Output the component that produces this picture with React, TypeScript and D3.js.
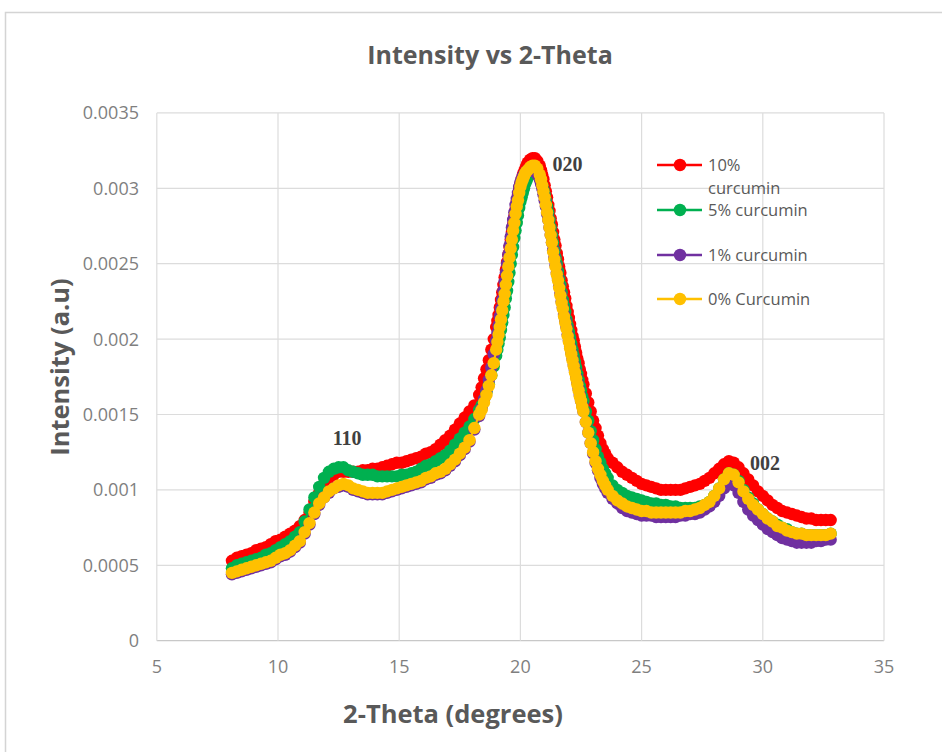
import React from "react";
import * as d3 from "d3";

// 2-Theta scan positions (degrees)
const twoTheta = [
  8.1, 8.3, 8.5, 8.7, 8.9, 9.1, 9.3, 9.5, 9.7, 9.9,
  10.1, 10.3, 10.5, 10.7, 10.9, 11.1, 11.3, 11.5, 11.7, 11.9,
  12.1, 12.3, 12.5, 12.7, 12.9, 13.1, 13.3, 13.5, 13.7, 13.9,
  14.1, 14.3, 14.5, 14.7, 14.9, 15.1, 15.3, 15.5, 15.7, 15.9,
  16.1, 16.3, 16.5, 16.7, 16.9, 17.1, 17.3, 17.5, 17.7, 17.9,
  18.1, 18.3,
  18.4, 18.5, 18.6, 18.7, 18.8, 18.9,
  19.0, 19.05, 19.1, 19.15, 19.2, 19.25, 19.3, 19.35, 19.4, 19.45, 19.5, 19.55, 19.6,
  19.65, 19.7, 19.75, 19.8, 19.85, 19.9, 19.95, 20.0, 20.05, 20.1, 20.15, 20.2, 20.25,
  20.3, 20.4, 20.5, 20.6, 20.7,
  20.8, 20.85, 20.9, 20.95, 21.0, 21.05, 21.1, 21.15, 21.2, 21.25, 21.3, 21.35,
  21.4, 21.45, 21.5, 21.55, 21.6, 21.65, 21.7, 21.75, 21.8, 21.85, 21.9, 21.95,
  22.0, 22.05, 22.1, 22.15, 22.2, 22.25, 22.3, 22.35, 22.4, 22.45, 22.5, 22.55,
  22.6, 22.7, 22.8, 22.9, 23.0, 23.1, 23.2, 23.3, 23.4, 23.5,
  23.6, 23.8,
  24.0, 24.2, 24.4, 24.6, 24.8, 25.0, 25.2, 25.4, 25.6, 25.8,
  26.0, 26.2, 26.4, 26.6, 26.8, 27.0, 27.2, 27.4, 27.6, 27.8,
  28.0, 28.2, 28.4, 28.6, 28.8, 29.0, 29.2, 29.4, 29.6, 29.8,
  30.0, 30.2, 30.4, 30.6, 30.8, 31.0, 31.2, 31.4, 31.6, 31.8,
  32.0, 32.2, 32.4, 32.6, 32.8,
];

// Intensities in units of 1e-5 a.u.
const UNIT = 1e-5;

const curcumin10 = [
  53, 55, 56, 57, 58, 60, 61, 62, 64, 66,
  67, 69, 71, 73, 76, 80, 85, 92, 98, 104,
  108, 110, 112, 112, 112, 112, 112, 113, 113, 114,
  114, 115, 116, 117, 118, 118, 119, 120, 121, 122,
  124, 125, 127, 130, 133, 136, 140, 144, 148, 152,
  156, 163,
  168, 174, 180, 186, 193, 200,
  208, 212, 216, 221, 226, 231, 236, 241, 246, 251, 256, 261, 266,
  271, 276, 281, 286, 291, 295, 299, 303, 306, 309, 311, 313, 315,
  317, 319, 320, 320, 318,
  315, 312, 309, 306, 302, 298, 294, 289, 285, 280, 276, 271,
  266, 262, 257, 253, 248, 244, 239, 235, 231, 227, 222, 218,
  214, 210, 206, 202, 199, 195, 191, 187, 184, 180, 177, 173,
  170, 164, 158, 152, 146, 141, 136, 131, 127, 124,
  121, 118,
  115, 112, 110, 108, 106, 104, 103, 102, 101, 100,
  100, 100, 100, 100, 101, 102, 103, 104, 106, 108,
  111, 114, 117, 119, 118, 115, 111, 107, 103, 99,
  96, 93, 90, 88, 86, 85, 84, 83, 82, 81,
  81, 80, 80, 80, 80,
];

const curcumin5 = [
  48, 50, 51, 52, 53, 54, 55, 57, 58, 60,
  62, 64, 66, 69, 72, 79, 87, 95, 102, 108,
  112, 114, 115, 115, 113, 112, 111, 110, 110, 110,
  109, 109, 109, 109, 109, 110, 110, 111, 112, 114,
  116, 117, 119, 121, 123, 126, 130, 134, 138, 142,
  147, 153,
  156, 160, 165, 170, 176, 182,
  189, 193, 197, 201, 206, 211, 216, 221, 227, 232, 238, 244, 250,
  256, 261, 267, 272, 277, 282, 287, 291, 294, 297, 300, 303, 305,
  307, 309, 311, 311, 310,
  307, 305, 302, 299, 296, 292, 288, 284, 279, 274, 269, 264,
  259, 254, 250, 245, 240, 236, 231, 226, 222, 218, 213, 209,
  205, 201, 197, 193, 189, 185, 181, 177, 173, 169, 166, 162,
  159, 152, 146, 139, 133, 127, 122, 118, 114, 111,
  108, 103,
  100, 98, 96, 95, 94, 93, 92, 91, 91, 90,
  90, 89, 89, 88, 88, 88, 88, 89, 90, 92,
  96, 101, 107, 111, 110, 106, 100, 95, 91, 87,
  84, 81, 79, 77, 75, 74, 72, 71, 71, 70,
  70, 70, 70, 70, 71,
];

const curcumin1 = [
  44, 45, 46, 47, 48, 49, 50, 51, 52, 54,
  56, 57, 59, 62, 65, 71, 77, 84, 90, 95,
  98, 101, 102, 103, 102, 100, 99, 98, 97, 97,
  97, 97, 98, 99, 100, 101, 102, 103, 104, 105,
  107, 108, 110, 111, 113, 116, 119, 123, 127, 132,
  140, 149,
  154, 160, 166, 173, 181, 190,
  199, 204, 209, 215, 220, 226, 232, 238, 244, 250, 256, 262, 268,
  274, 279, 284, 289, 293, 297, 301, 304, 306, 308, 309, 310, 311,
  312, 312, 312, 311, 309,
  306, 303, 300, 296, 292, 288, 283, 279, 274, 269, 264, 259,
  254, 249, 244, 240, 235, 230, 225, 221, 216, 212, 208, 203,
  199, 195, 191, 187, 183, 179, 175, 171, 167, 163, 159, 156,
  152, 145, 138, 131, 124, 118, 113, 108, 104, 101,
  98, 94,
  91, 88, 86, 85, 84, 83, 83, 83, 82, 82,
  82, 82, 82, 83, 83, 84, 84, 85, 87, 89,
  92, 96, 101, 104, 103, 98, 92, 87, 83, 80,
  77, 74, 72, 70, 68, 67, 66, 65, 65, 65,
  65, 66, 66, 67, 67,
];

const curcumin0 = [
  45, 46, 47, 48, 49, 50, 51, 52, 53, 55,
  57, 58, 60, 63, 66, 72, 78, 85, 91, 95,
  99, 101, 103, 104, 103, 101, 100, 99, 98, 98,
  98, 98, 99, 100, 101, 102, 103, 104, 105, 106,
  108, 109, 111, 112, 114, 117, 120, 124, 128, 133,
  141, 150,
  153, 158, 163, 169, 176, 184,
  193, 198, 203, 208, 213, 219, 225, 230, 236, 242, 248, 254, 260,
  266, 272, 277, 283, 288, 292, 297, 301, 304, 306, 308, 310, 311,
  312, 314, 315, 315, 313,
  309, 306, 302, 298, 294, 289, 284, 279, 274, 269, 264, 258,
  253, 248, 243, 239, 234, 229, 224, 220, 215, 211, 207, 202,
  198, 194, 190, 186, 182, 178, 174, 170, 166, 162, 159, 155,
  152, 145, 138, 131, 125, 119, 114, 110, 106, 103,
  100, 96,
  93, 91, 89, 88, 87, 86, 86, 85, 85, 85,
  85, 85, 85, 85, 86, 86, 87, 88, 90, 92,
  96, 101, 107, 111, 110, 105, 99, 94, 90, 87,
  84, 81, 79, 76, 75, 73, 72, 71, 71, 70,
  70, 70, 70, 70, 71,
];

const seriesNames = ["10%\ncurcumin", "5% curcumin", "1% curcumin", "0% Curcumin"];
const seriesValues = [curcumin10, curcumin5, curcumin1, curcumin0];
const seriesColors = ["#ff0000", "#00b050", "#7030a0", "#ffc000"];

const xTicks = [5, 10, 15, 20, 25, 30, 35];
const yTicks = [0, 0.0005, 0.001, 0.0015, 0.002, 0.0025, 0.003, 0.0035];
const yTickLabels = ["0", "0.0005", "0.001", "0.0015", "0.002", "0.0025", "0.003", "0.0035"];

const peakLabels = ["110", "020", "002"];
const peakX = [12.85, 21.94, 30.09];
const peakY = [0.0012977, 0.003115, 0.001132];

const FONT = "'Open Sans', Lato, sans-serif";

export default function App() {
  const W = 942;
  const H = 752;
  const x = d3.scaleLinear().domain([5, 35]).range([156.8, 884]);
  const y = d3.scaleLinear().domain([0, 0.0035]).range([640.7, 112.9]);

  const makeLine = (vals: number[]) =>
    d3
      .line<number>()
      .x((_, i) => x(twoTheta[i]))
      .y((d) => y(d * UNIT))(vals.slice(0, twoTheta.length)) || "";

  const legendX = 657;
  const legendRows = [165, 210, 255, 299];
  const R = 6.2;

  return (
    <div style={{ position: "absolute", left: 0, top: 0 }}>
      <svg width={W} height={H} style={{ display: "block", background: "#fff" }}>
        <rect x={0} y={0} width={W} height={H} fill="#fff" />
        <rect x={5.5} y={12.5} width={W + 10} height={H + 10} fill="none" stroke="#d4d4d4" strokeWidth={1.5} />

        <text x={490} y={64} textAnchor="middle" fontFamily={FONT} fontWeight={700} fontSize={25} fill="#595959">
          Intensity vs 2-Theta
        </text>

        {/* grid */}
        {yTicks.map((t) => (
          <line key={"gy" + t} x1={x(5)} x2={x(35)} y1={y(t)} y2={y(t)} stroke={t === 0 ? "#c8c8c8" : "#dcdcdc"} strokeWidth={1.2} />
        ))}
        {xTicks.map((t) => (
          <line key={"gx" + t} x1={x(t)} x2={x(t)} y1={y(0)} y2={y(0.0035)} stroke="#dcdcdc" strokeWidth={1.2} />
        ))}

        {/* tick labels */}
        {yTicks.map((t, i) => (
          <text key={"ty" + t} x={139} y={y(t) + 6.5} textAnchor="end" fontFamily={FONT} fontSize={18} fill="#7f7f7f">
            {yTickLabels[i]}
          </text>
        ))}
        {xTicks.map((t) => (
          <text key={"tx" + t} x={x(t)} y={673} textAnchor="middle" fontFamily={FONT} fontSize={18} fill="#7f7f7f">
            {t}
          </text>
        ))}

        {/* axis titles */}
        <text
          transform="translate(69,367) rotate(-90)"
          textAnchor="middle"
          fontFamily={FONT}
          fontWeight={700}
          fontSize={25.5}
          fill="#595959"
        >
          Intensity (a.u)
        </text>
        <text x={453} y={723} textAnchor="middle" fontFamily={FONT} fontWeight={700} fontSize={25.5} fill="#595959">
          2-Theta (degrees)
        </text>

        {/* series */}
        {seriesValues.map((vals, s) => (
          <g key={"s" + s}>
            <path d={makeLine(vals)} fill="none" stroke={seriesColors[s]} strokeWidth={2.2} />
            {vals.slice(0, twoTheta.length).map((v, i) => (
              <circle key={i} cx={x(twoTheta[i])} cy={y(v * UNIT)} r={R} fill={seriesColors[s]} />
            ))}
          </g>
        ))}

        {/* peak labels */}
        {peakLabels.map((p, i) => (
          <text
            key={p}
            x={x(peakX[i])}
            y={y(peakY[i])}
            textAnchor="middle"
            fontFamily="'Liberation Serif', 'DejaVu Serif', serif"
            fontWeight={700}
            fontSize={20}
            fill="#404040"
          >
            {p}
          </text>
        ))}

        {/* legend */}
        {seriesNames.map((n, i) => {
          const ly = legendRows[i];
          const lines = n.split("\n");
          return (
            <g key={"lg" + i}>
              <line x1={legendX} x2={legendX + 45} y1={ly} y2={ly} stroke={seriesColors[i]} strokeWidth={2.5} />
              <circle cx={legendX + 23} cy={ly} r={R} fill={seriesColors[i]} />
              <text x={708} y={ly + 6} fontFamily={FONT} fontSize={16.5} fill="#595959">
                {lines.map((l, k) => (
                  <tspan key={k} x={708} dy={k === 0 ? 0 : 23}>
                    {l}
                  </tspan>
                ))}
              </text>
            </g>
          );
        })}
      </svg>
    </div>
  );
}
